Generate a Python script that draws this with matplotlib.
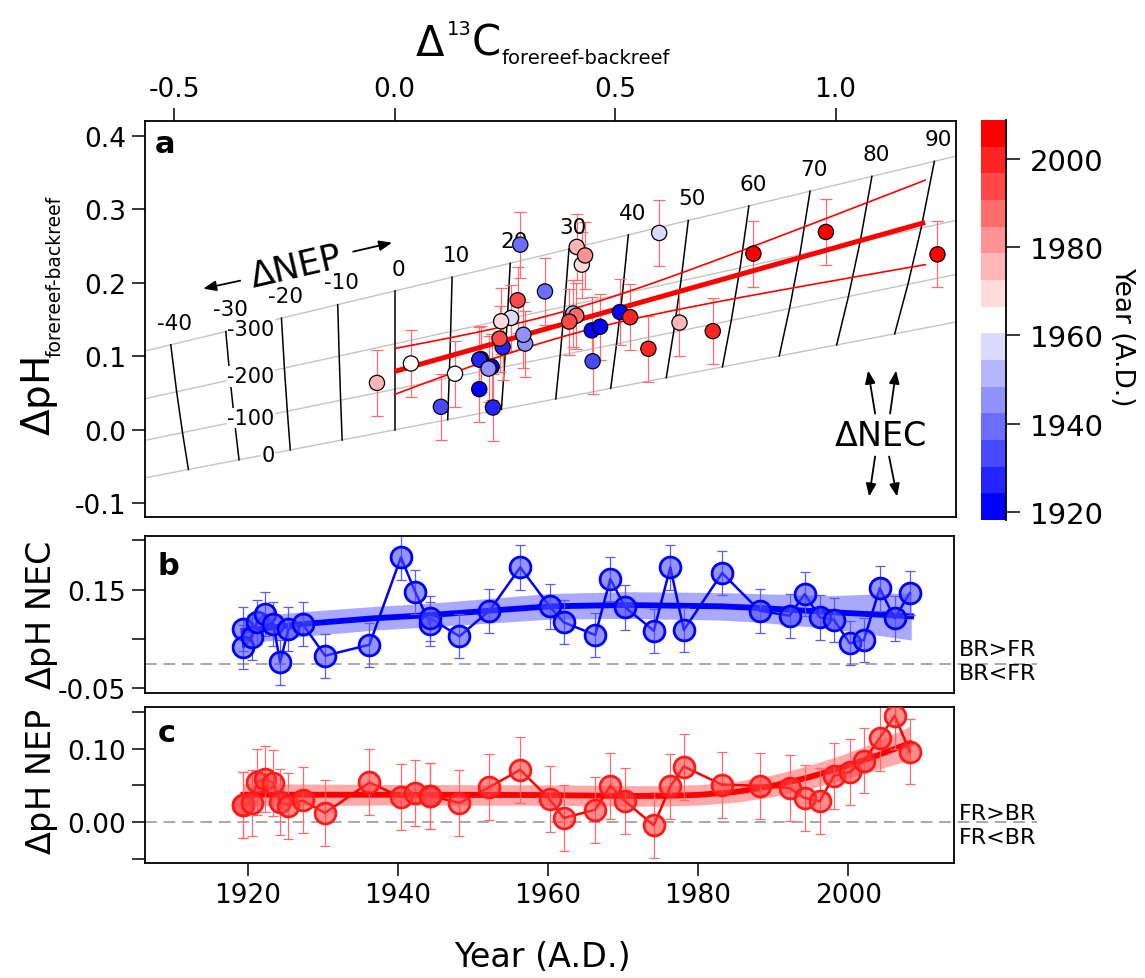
import numpy as np
import matplotlib
matplotlib.use("Agg")
import matplotlib.pyplot as plt
from matplotlib.colors import LinearSegmentedColormap, BoundaryNorm

plt.rcParams['font.family'] = ['DejaVu Sans']
plt.rcParams['axes.unicode_minus'] = False
plt.rcParams['mathtext.fontset'] = 'dejavusans'

# ---------------- panel a: coral pairs (forereef - backreef) ----------------
a_year = [1919.4, 1919.4, 1920.5, 1921.2, 1922.3, 1923.4, 1924.3, 1925.4, 1927.3,
          1930.3, 1936.2, 1940.4, 1942.3, 1944.3, 1944.3, 1948.2, 1952.2, 1956.3,
          1960.2, 1962.1, 1966.3, 1968.3, 1970.3, 1974.1, 1976.3, 1978.1, 1983.2,
          1988.2, 1992.2, 1994.2, 1996.2, 1998.1, 2000.2, 2002.1, 2004.2, 2006.2,
          2008.2]
a_d13c = [0.196, 0.192, 0.220, 0.447, 0.511, 0.466, 0.223, 0.192, 0.245,
          0.105, 0.449, 0.285, 0.341, 0.296, 0.292, 0.213, 0.405, 0.600,
          0.264, 0.037, 0.137, 0.4245, 0.2415, -0.040, 0.413, 0.646, 0.432,
          0.412, 0.396, 0.279, 0.238, 0.534, 0.5755, 0.7215, 0.978, 1.231,
          0.8136]
a_dph = [0.096, 0.055, 0.0855, 0.135, 0.160, 0.140, 0.030, 0.0952, 0.1125,
         0.031, 0.093, 0.2517, 0.188, 0.117, 0.129, 0.083, 0.158, 0.2676,
         0.152, 0.090, 0.076, 0.2245, 0.1474, 0.0635, 0.2486, 0.1456, 0.237,
         0.155, 0.147, 0.176, 0.1238, 0.153, 0.110, 0.134, 0.269, 0.2385,
         0.2395]
a_err = 0.045

# regression range and Student t (n - 2 = 35, 95 %)
fit_range = (0.0, 1.203)
t95 = 2.03

# nomogram: lines of constant NEP (black) and constant NEC (grey)
nep_levels = [-40, -30, -20, -10, 0, 10, 20, 30, 40, 50, 60, 70, 80, 90]
nec_levels = [0, -100, -200, -300]
nec_slope = [0.1153, 0.1227, 0.1319, 0.1442]     # dpH / dD13C along each NEC line
nec_offset = [-0.0004, 0.0549, 0.1167, 0.1886]   # dpH at D13C = 0
d13c_coef = (0.01197, -3.33e-6, 7.0e-6)          # D13C = NEP*(k0 + k1*NEC + k2*NEP)

# ---------------- panels b, c: time series ----------------
ts_year = [1919.4, 1919.4, 1920.5, 1921.2, 1922.3, 1923.4, 1924.3, 1925.4, 1927.3,
           1930.3, 1936.2, 1940.4, 1942.3, 1944.3, 1944.3, 1948.2, 1952.2, 1956.3,
           1960.2, 1962.1, 1966.3, 1968.3, 1970.3, 1974.1, 1976.3, 1978.1, 1983.2,
           1988.2, 1992.2, 1994.2, 1996.2, 1998.1, 2000.2, 2002.1, 2004.2, 2006.2,
           2008.2]
nec_dph = [0.0703, 0.0332, 0.0534, 0.0839, 0.1007, 0.0804, 0.0027, 0.0703, 0.0804,
           0.0161, 0.0384, 0.2157, 0.1459, 0.0804, 0.092, 0.0555, 0.1074, 0.1954,
           0.1163, 0.0839, 0.0581, 0.1717, 0.1143, 0.0668, 0.1954, 0.0683, 0.1839,
           0.1074, 0.0973, 0.1413, 0.0940, 0.0891, 0.0413, 0.0480, 0.1528, 0.0920,
           0.1433]
nep_dph = [0.0236, 0.0230, 0.0259, 0.0540, 0.0590, 0.0531, 0.0267, 0.0222, 0.0294,
           0.0123, 0.0540, 0.0341, 0.0395, 0.0349, 0.0360, 0.0259, 0.0477, 0.0713,
           0.0313, 0.0054, 0.0168, 0.0495, 0.0281, -0.0046, 0.0485, 0.0757, 0.0508,
           0.0495, 0.0463, 0.0327, 0.0281, 0.0631, 0.0681, 0.0839, 0.1144, 0.1452,
           0.0962]
ts_err = 0.045

b_trend_year = [1919.4, 1927.3, 1936.7, 1944.3, 1952.2, 1960.2, 1970.3, 1983.2, 1988.2, 1998.1, 2008.4]
b_trend = [0.0668, 0.0804, 0.092, 0.0987, 0.1074, 0.1163, 0.119, 0.1163, 0.1129, 0.1042, 0.096]
b_trend_hw = [0.027, 0.025, 0.024, 0.024, 0.025, 0.026, 0.027, 0.028, 0.029, 0.034, 0.048]

c_trend_year = [1919.4, 1940.0, 1959.0, 1970.0, 1975.0, 1980.0, 1985.0, 1990.0, 1994.4, 1998.9, 2003.3, 2008.2]
c_trend = [0.0372, 0.0372, 0.0368, 0.0356, 0.0356, 0.0370, 0.0410, 0.0495, 0.0600, 0.0736, 0.0886, 0.1076]
c_trend_hw = [0.015, 0.014, 0.014, 0.014, 0.014, 0.014, 0.014, 0.015, 0.016, 0.017, 0.019, 0.023]

year_ticks = [1920, 1940, 1960, 1980, 2000]
cbar_range = (1918.2, 2008.8)
n_bands = 15

# ---------------------------------------------------------------------------
W, H = 1145, 979
fig = plt.figure(figsize=(W / 100, H / 100), dpi=100)
fig.patch.set_facecolor('white')


def box(l, t, r, b):
    return [l / W, 1 - b / H, (r - l) / W, (b - t) / H]


ax_a = fig.add_axes(box(145, 122, 956, 518))
ax_b = fig.add_axes(box(145, 537, 954, 694))
ax_c = fig.add_axes(box(145, 708, 954, 864))
ax_cb = fig.add_axes(box(981, 121, 1006, 521))

TICK = dict(length=9.5, width=1.1, labelsize=19, pad=4, direction='out')
for ax in (ax_a, ax_b, ax_c):
    for sp in ax.spines.values():
        sp.set_linewidth(1.3)

bounds = np.linspace(cbar_range[0], cbar_range[1], n_bands + 1)
cmap = LinearSegmentedColormap.from_list('bwr_steps', ['#0000ff', '#ffffff', '#ff0000'], N=n_bands)
norm = BoundaryNorm(bounds, n_bands)

# ---------------- panel a ----------------
xlo, xhi = -0.566, 1.273
ax_a.set_xlim(xlo, xhi)
ax_a.set_ylim(-0.119, 0.42)
xs = np.array([xlo, xhi])
for s, y0 in zip(nec_slope, nec_offset):
    ax_a.plot(xs, s * xs + y0, color='#c4c4c4', lw=1.0, zorder=1)

k0, k1, k2 = d13c_coef
nec = np.array(nec_levels, dtype=float)
for n in nep_levels:
    gx = n * (k0 + k1 * nec + k2 * n)
    gy = np.array(nec_slope) * gx + np.array(nec_offset)
    ax_a.plot(gx, gy, color='black', lw=1.1, zorder=1.5)
    ax_a.annotate(str(n), (gx[-1], gy[-1]), xytext=(3, 16), textcoords='offset points',
                  ha='center', va='center', fontsize=15.5, zorder=3)

nec_label_drop = [1.5, 3.0, 4.5, 6.5]   # points below each grey line
for lev, s, y0, dy in zip(nec_levels, nec_slope, nec_offset, nec_label_drop):
    xl = -0.272
    ax_a.annotate(str(lev), (xl, s * xl + y0), xytext=(0, -dy), textcoords='offset points',
                  ha='right', va='center', fontsize=15, zorder=2,
                  bbox=dict(fc='white', ec='none', pad=0.3))

ax_a.errorbar(a_d13c, a_dph, yerr=a_err, fmt='none', ecolor='#ff6e6e',
              elinewidth=0.9, capsize=4.5, capthick=0.9, zorder=2.5)

# least-squares line with 95 % confidence band
x = np.array(a_d13c)
y = np.array(a_dph)
npts = len(x)
xm = x.mean()
sxx = ((x - xm) ** 2).sum()
slope = ((x - xm) * (y - y.mean())).sum() / sxx
icpt = y.mean() - slope * xm
sres = np.sqrt(((y - icpt - slope * x) ** 2).sum() / (npts - 2))
xf = np.linspace(fit_range[0], fit_range[1], 120)
yf = icpt + slope * xf
hw = t95 * sres * np.sqrt(1.0 / npts + (xf - xm) ** 2 / sxx)
ax_a.plot(xf, yf, color='#ff0000', lw=3.6, zorder=4, solid_capstyle='butt')
ax_a.plot(xf, yf + hw, color='#ff0000', lw=1.2, zorder=4)
ax_a.plot(xf, yf - hw, color='#ff0000', lw=1.2, zorder=4)

ax_a.scatter(a_d13c, a_dph, c=a_year, cmap=cmap, norm=norm, s=120,
             edgecolors='black', linewidths=0.9, zorder=5)

ax_a.xaxis.tick_top()
ax_a.set_xticks([-0.5, 0.0, 0.5, 1.0])
ax_a.set_xticklabels(['-0.5', '0.0', '0.5', '1.0'])
ax_a.set_yticks([0.4, 0.3, 0.2, 0.1, 0.0, -0.1])
ax_a.set_yticklabels(['0.4', '0.3', '0.2', '0.1', '0.0', '-0.1'])
ax_a.tick_params(axis='both', **TICK)
ax_a.tick_params(axis='x', top=True, bottom=False, labeltop=True, labelbottom=False)
ax_a.text(0.0123, 0.922, 'a', transform=ax_a.transAxes, fontsize=22,
          fontweight='bold', ha='left', va='baseline')

arrow_kw = dict(arrowstyle='-|>,head_length=0.55,head_width=0.22', color='black',
                lw=1.3, shrinkA=0, shrinkB=0, mutation_scale=14)
ax_a.text(-0.223, 0.2218, r'$\Delta$NEP', rotation=13, ha='center', va='center',
          fontsize=25, zorder=3)
ax_a.annotate('', xy=(-0.434, 0.1918), xytext=(-0.350, 0.2027), arrowprops=arrow_kw)
ax_a.annotate('', xy=(-0.0057, 0.2544), xytext=(-0.094, 0.2422), arrowprops=arrow_kw)

ax_a.text(1.101, -0.008, r'$\Delta$NEC', ha='center', va='center', fontsize=24, zorder=3)
for (tx, ty), (hx, hy) in [((1.0896, 0.0218), (1.0737, 0.0803)),
                           ((1.1236, 0.0218), (1.1372, 0.0803)),
                           ((1.0896, -0.0367), (1.0760, -0.0912)),
                           ((1.1213, -0.0367), (1.1395, -0.0912))]:
    ax_a.annotate('', xy=(hx, hy), xytext=(tx, ty), arrowprops=arrow_kw)

# ---------------- panels b and c ----------------
for ax in (ax_b, ax_c):
    ax.set_xlim(1906.3, 2014.1)

bt = np.array(b_trend)
bh = np.array(b_trend_hw)
ax_b.fill_between(b_trend_year, bt - bh, bt + bh, color='#9a9aff', alpha=0.85, lw=0, zorder=1)
ax_b.plot(b_trend_year, b_trend, color='#0000ff', lw=4.2, zorder=2)
ax_b.errorbar(ts_year, nec_dph, yerr=ts_err, fmt='none', ecolor='#5a5aff',
              elinewidth=0.9, capsize=3.5, capthick=0.9, zorder=2.5)
ax_b.plot(ts_year, nec_dph, color='#0000ff', lw=1.8, marker='o', ms=15,
          mfc=(0.3, 0.3, 1.0, 0.6), mec='#0000ff', mew=2.0, zorder=3)
ax_b.set_ylim(-0.0595, 0.259)
ax_b.set_yticks([0.25, 0.15, 0.05, -0.05])
ax_b.set_yticklabels(['', '0.15', '', '-0.05'])
ax_b.tick_params(axis='y', **TICK)
ax_b.tick_params(axis='x', bottom=False, labelbottom=False)
ax_b.text(0.016, 0.758, 'b', transform=ax_b.transAxes, fontsize=22,
          fontweight='bold', ha='left', va='baseline')

ct = np.array(c_trend)
ch = np.array(c_trend_hw)
ax_c.fill_between(c_trend_year, ct - ch, ct + ch, color='#ff9a9a', alpha=0.85, lw=0, zorder=1)
ax_c.plot(c_trend_year, c_trend, color='#ff0000', lw=4.2, zorder=2)
ax_c.errorbar(ts_year, nep_dph, yerr=ts_err, fmt='none', ecolor='#ff6a6a',
              elinewidth=0.9, capsize=3.5, capthick=0.9, zorder=2.5)
ax_c.plot(ts_year, nep_dph, color='#ff0000', lw=1.8, marker='o', ms=15,
          mfc=(1.0, 0.25, 0.25, 0.6), mec='#ff1a1a', mew=2.0, zorder=3)
ax_c.set_ylim(-0.056, 0.157)
ax_c.set_yticks([0.15, 0.10, 0.05, 0.0, -0.05])
ax_c.set_yticklabels(['', '0.10', '', '0.00', ''])
ax_c.set_xticks(year_ticks)
ax_c.set_xticklabels([str(v) for v in year_ticks])
ax_c.tick_params(axis='both', **TICK)
ax_c.text(0.016, 0.784, 'c', transform=ax_c.transAxes, fontsize=22,
          fontweight='bold', ha='left', va='baseline')

# zero lines running out past the right edge, with their captions
for ax, up, dn, yu, yd in [(ax_b, 'BR>FR', 'BR<FR', 0.0297, -0.019),
                           (ax_c, 'FR>BR', 'FR<BR', 0.0127, -0.020)]:
    tr = ax.get_yaxis_transform()
    ax.plot([0, 1.103], [0, 0], transform=tr, clip_on=False, color='#a8a8a8',
            lw=1.4, dashes=(6, 3.5), zorder=0.5)
    ax.text(1.006, yu, up, transform=tr, ha='left', va='center', fontsize=16)
    ax.text(1.006, yd, dn, transform=tr, ha='left', va='center', fontsize=16)

# ---------------- colour bar ----------------
centers = 0.5 * (bounds[:-1] + bounds[1:])
ax_cb.pcolormesh([0, 1], bounds, centers.reshape(-1, 1), cmap=cmap, norm=norm, shading='flat')
ax_cb.set_xlim(0, 1)
ax_cb.set_ylim(bounds[0], bounds[-1])
for side in ('left', 'top', 'bottom'):
    ax_cb.spines[side].set_visible(False)
ax_cb.spines['right'].set_linewidth(1.3)
ax_cb.set_xticks([])
ax_cb.yaxis.tick_right()
ax_cb.set_yticks(year_ticks)
ax_cb.set_yticklabels([str(v) for v in year_ticks])
ax_cb.tick_params(axis='y', length=10, width=1.1, labelsize=21, pad=7, direction='out')
fig.text(1122 / W, 1 - 337 / H, 'Year (A.D.)', rotation=270, ha='center', va='center', fontsize=19)

# ---------------- axis titles ----------------
t1 = fig.text(415 / W, 1 - 56 / H, r'$\Delta$', fontsize=30, ha='left', va='baseline')
t2 = fig.text(0, 0, '', fontsize=1)
t2.remove()
t2 = plt.annotate('13', xy=(1, 0), xycoords=t1, xytext=(1, 19), textcoords='offset points',
                  ha='left', va='bottom', fontsize=14, annotation_clip=False)
t3 = plt.annotate('C', xy=(1, 0), xycoords=(t2, t1), xytext=(0, 0), textcoords='offset points',
                  ha='left', va='bottom', fontsize=30, annotation_clip=False)
plt.annotate('forereef-backreef', xy=(1, 0), xycoords=(t3, t1), xytext=(1, -2),
             textcoords='offset points', ha='left', va='bottom', fontsize=14,
             annotation_clip=False)

y1 = fig.text(40 / W, 1 - 436 / H, r'$\Delta$pH', fontsize=28, rotation=90,
              ha='center', va='bottom')
plt.annotate('forereef-backreef', xy=(1, 1), xycoords=y1, xytext=(3, 0),
             textcoords='offset points', ha='right', va='bottom', rotation=90,
             fontsize=13.5, annotation_clip=False)

fig.text(42 / W, 1 - 615 / H, r'$\Delta$pH NEC', fontsize=24, rotation=90, ha='center', va='center')
fig.text(42 / W, 1 - 782 / H, r'$\Delta$pH NEP', fontsize=24, rotation=90, ha='center', va='center')
fig.text(542 / W, 1 - 958 / H, 'Year (A.D.)', fontsize=24, ha='center', va='center')

fig.savefig('out.png', dpi=100, facecolor='white')
